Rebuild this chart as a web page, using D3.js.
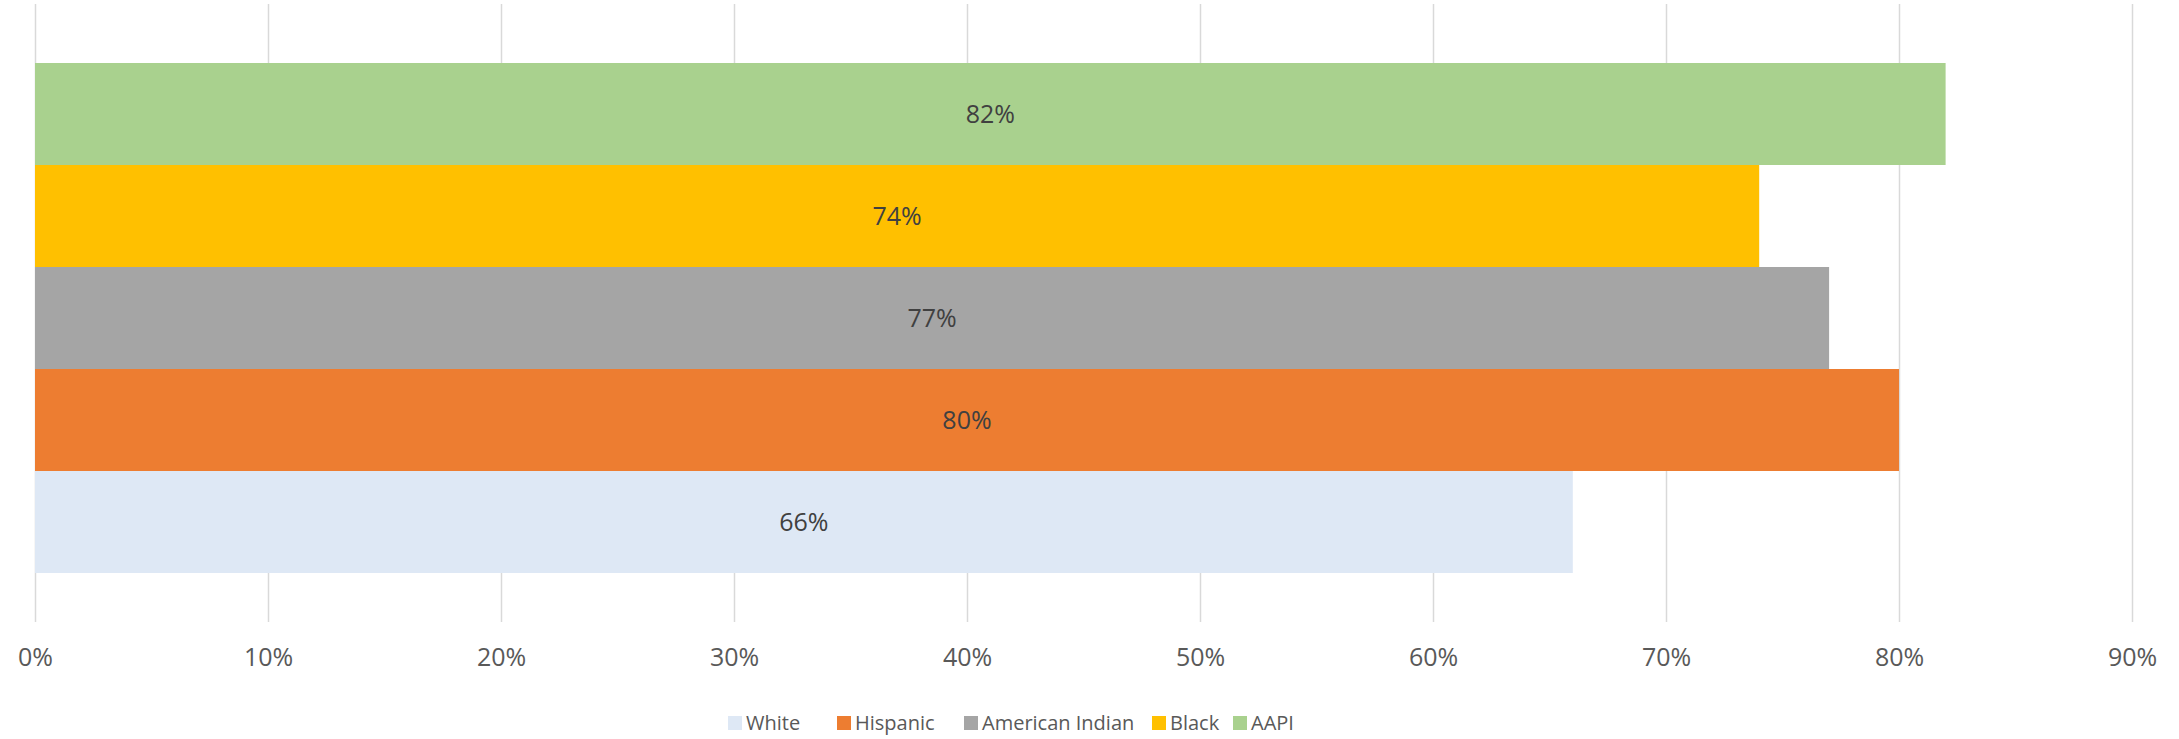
<!DOCTYPE html>
<html>
<head>
<meta charset="utf-8">
<script src="https://cdn.jsdelivr.net/npm/d3@7"></script>
<style>
  body { margin: 0; background: #fff; }
  text { font-family: "Open Sans", "DejaVu Sans", sans-serif; fill: #595959; }
  .grid line { stroke: #d9d9d9; stroke-width: 1.5px; }
  .grid path { display: none; }
  .axis path, .axis line { display: none; }
</style>
</head>
<body>
<div class="demo"></div>
<script>
const w = 2179, h = 739;

// data
const series = ['White', 'Hispanic', 'American Indian', 'Black', 'AAPI'];
const values = [0.66, 0.80, 0.77, 0.74, 0.82];
const colors = ['#dee8f5', '#ed7d31', '#a5a5a5', '#ffc000', '#a9d18e'];
const ticks = [0, 0.1, 0.2, 0.3, 0.4, 0.5, 0.6, 0.7, 0.8, 0.9];

const dataset = series.map((s, i) => ({ name: s, value: values[i], color: colors[i] }));

let xScale = d3.scaleLinear().domain([0, 0.9]).range([35, 2132]);
// bottom-to-top order: White at bottom, AAPI on top
let yScale = d3.scaleBand().domain(series.slice().reverse()).range([63, 573]).padding(0);

let svg = d3.select('.demo').append('svg').attr('width', w).attr('height', h);

// vertical gridlines
let xGrid = d3.axisTop(xScale)
  .tickValues(ticks)
  .tickFormat('')
  .tickSize(-618);
svg.append('g').attr('class', 'grid')
  .attr('transform', 'translate(0,4)')
  .call(xGrid);

svg.selectAll('rect.bar').data(dataset).enter()
  .append('rect')
  .attr('class', 'bar')
  .attr('x', xScale(0))
  .attr('y', d => yScale(d.name))
  .attr('width', d => xScale(d.value) - xScale(0))
  .attr('height', yScale.bandwidth())
  .attr('fill', d => d.color);

svg.selectAll('text.lbl').data(dataset).enter()
  .append('text')
  .attr('class', 'lbl')
  .text(d => Math.round(d.value * 100) + '%')
  .attr('x', d => (xScale(0) + xScale(d.value)) / 2)
  .attr('y', d => yScale(d.name) + yScale.bandwidth() / 2)
  .attr('dy', '0.35em')
  .attr('text-anchor', 'middle')
  .attr('font-size', '25px')
  .style('fill', '#404040');

let xAxis = d3.axisBottom(xScale)
  .tickValues(ticks)
  .tickFormat(d3.format('.0%'))
  .tickSize(0)
  .tickPadding(0);
svg.append('g').attr('class', 'axis')
  .attr('transform', 'translate(0,657)')
  .call(xAxis)
  .selectAll('text')
  .attr('dy', '0.35em')
  .attr('font-size', '25px');

// legend
const legendX = [728, 837, 964, 1152, 1233];
let legend = svg.selectAll('g.legend').data(dataset).enter()
  .append('g').attr('class', 'legend')
  .attr('transform', (d, i) => 'translate(' + legendX[i] + ',723)');
legend.append('rect')
  .attr('x', 0).attr('y', -7)
  .attr('width', 14).attr('height', 14)
  .attr('fill', d => d.color);
legend.append('text')
  .attr('x', 18).attr('dy', '0.35em')
  .attr('font-size', '20px')
  .text(d => d.name);
</script>
</body>
</html>
